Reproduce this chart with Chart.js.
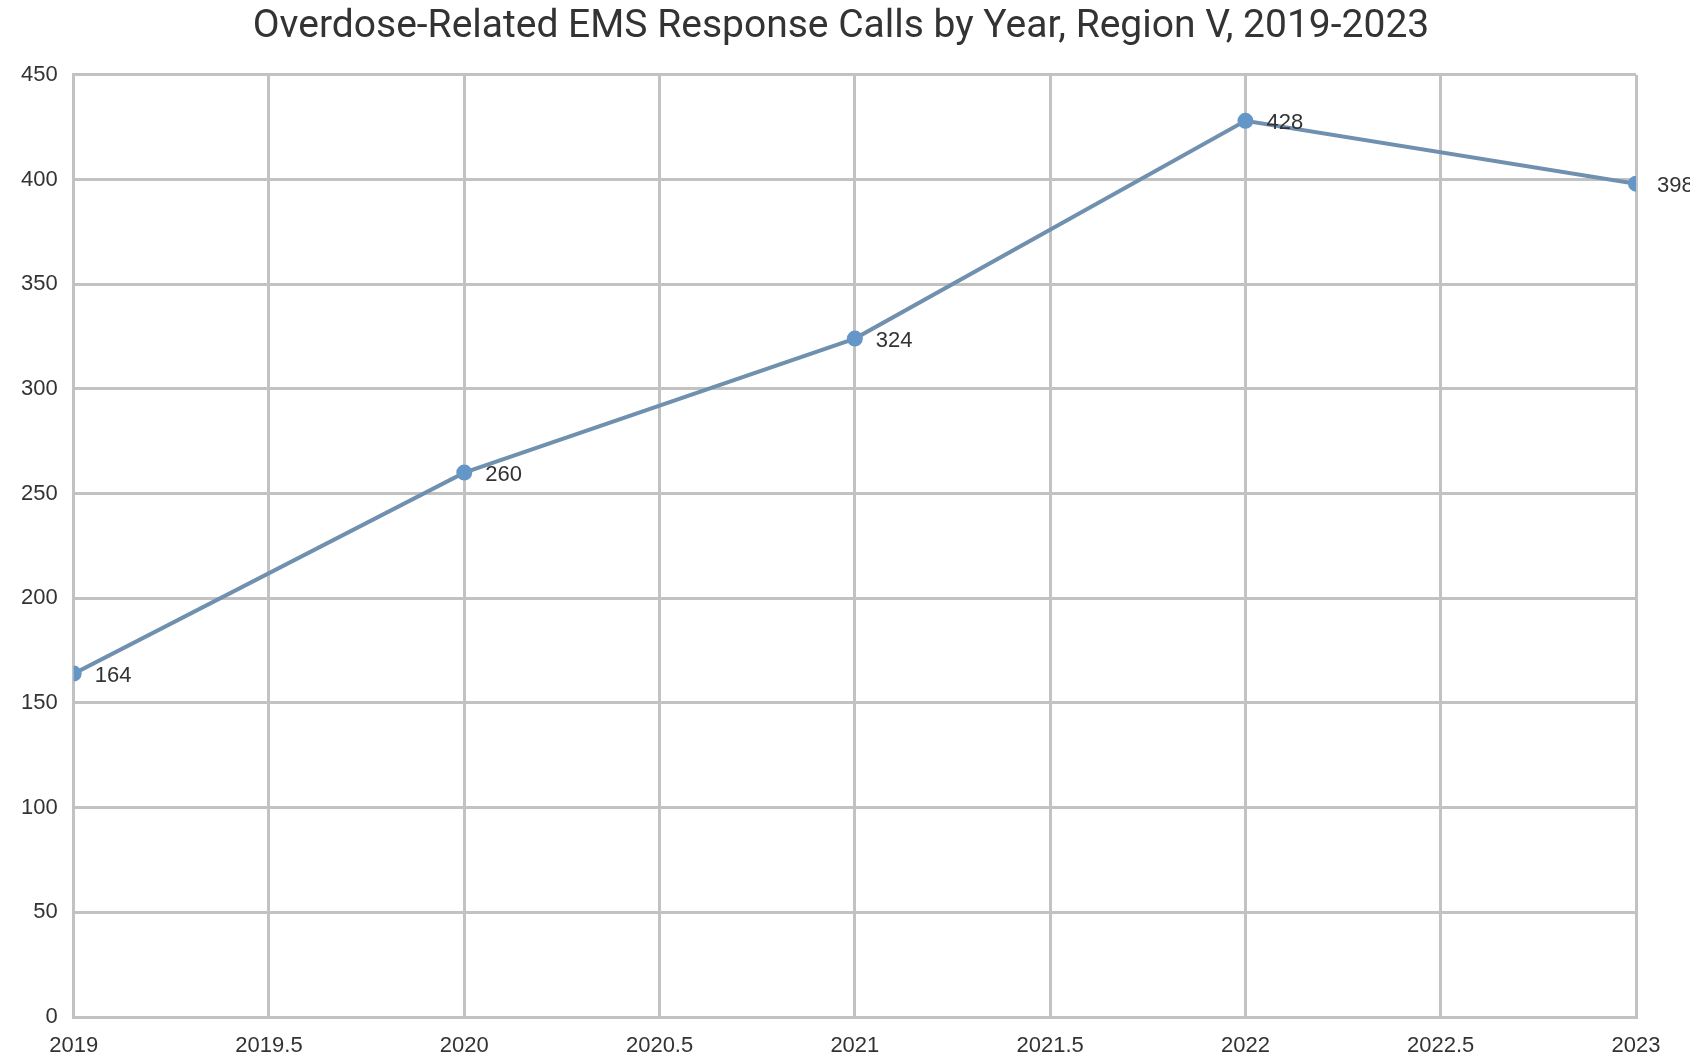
<!DOCTYPE html>
<html>
<head>
<meta charset="utf-8">
<script src="https://cdn.jsdelivr.net/npm/chart.js@4.4.1/dist/chart.umd.min.js"></script>
<style>
  html, body { margin: 0; padding: 0; background: #fff; }
  #wrap { width: 1690px; height: 1057px; overflow: hidden; }
</style>
</head>
<body>
<div id="wrap"><canvas id="myChart" width="1690" height="1057"></canvas></div>
<script>
// data
let years = [2019, 2020, 2021, 2022, 2023];
let calls = [164, 260, 324, 428, 398];
let chartTitle = 'Overdose-Related EMS Response Calls by Year, Region V, 2019-2023';

let points = years.map((y, i) => ({ x: y, y: calls[i] }));

// little value labels next to each point
let valueLabels = {
  id: 'valueLabels',
  afterDatasetsDraw(chart) {
    let ctx = chart.ctx;
    let meta = chart.getDatasetMeta(0);
    ctx.save();
    ctx.font = '22px "Liberation Sans", Arial, sans-serif';
    ctx.fillStyle = '#333';
    ctx.textAlign = 'left';
    ctx.textBaseline = 'middle';
    meta.data.forEach((pt, i) => {
      ctx.fillText(String(calls[i]), pt.x + 21, pt.y + 2);
    });
    ctx.restore();
  }
};

// the original title sits a little left of the canvas centre
let nudgeTitle = {
  id: 'nudgeTitle',
  afterLayout(chart) {
    if (chart.titleBlock) chart.titleBlock.left += 41;
  }
};

let tickFont = { family: '"Liberation Sans", Arial, sans-serif', size: 22, lineHeight: 1 };

let ctx = document.getElementById('myChart').getContext('2d');

let lineChart = new Chart(ctx, {
  type: 'line',
  data: {
    datasets: [{
      label: 'Calls',
      data: points,
      borderColor: '#7090af',
      borderWidth: 4,
      backgroundColor: '#6596c8',
      pointBackgroundColor: '#6596c8',
      pointBorderColor: '#6596c8',
      pointRadius: 6,
      tension: 0
    }]
  },
  options: {
    responsive: false,
    animation: false,
    layout: { padding: { left: 5, right: 54, top: 4, bottom: -18 } },
    plugins: {
      legend: { display: false },
      tooltip: { enabled: false },
      title: {
        display: true,
        text: chartTitle,
        color: '#333',
        font: { family: 'Roboto, "Liberation Sans", sans-serif', size: 39, weight: 'normal' },
        padding: { top: 0, bottom: 24 }
      }
    },
    scales: {
      x: {
        type: 'linear',
        min: 2019,
        max: 2023,
        ticks: {
          stepSize: 0.5,
          color: '#333',
          padding: 18,
          maxRotation: 0,
          font: tickFont,
          callback: v => String(v)
        },
        grid: { color: '#c2c2c2', lineWidth: 3, drawTicks: false },
        border: { color: '#c2c2c2', width: 3 }
      },
      y: {
        min: 0,
        max: 450,
        ticks: {
          stepSize: 50,
          color: '#333',
          padding: 16,
          font: tickFont
        },
        grid: { color: '#c2c2c2', lineWidth: 3, drawTicks: false },
        border: { color: '#c2c2c2', width: 3 }
      }
    }
  },
  plugins: [valueLabels, nudgeTitle]
});
</script>
</body>
</html>
